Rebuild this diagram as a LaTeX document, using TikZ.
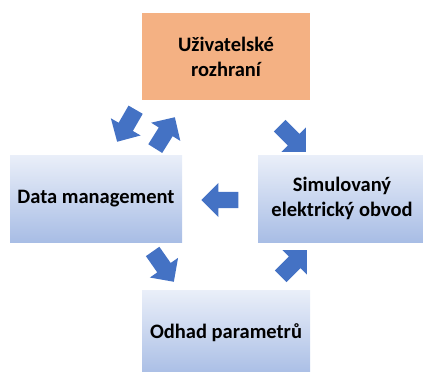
\documentclass[tikz,border=0pt]{standalone}
\usepackage{fontspec}
\setmainfont{Carlito}
\usetikzlibrary{shapes.arrows}

\definecolor{uiorange}{RGB}{244,177,131}
\definecolor{boxtop}{RGB}{234,239,249}
\definecolor{boxbot}{RGB}{168,189,229}
\definecolor{flowblue}{RGB}{68,114,196}

\tikzset{
  block/.style={minimum width=168pt, minimum height=87pt, inner sep=0pt,
    align=center, font=\bfseries\fontsize{20.5}{25}\selectfont},
  blueblock/.style={block, top color=boxtop, bottom color=boxbot},
  flow/.style={single arrow, fill=flowblue, inner xsep=0pt, inner ysep=8pt,
    anchor=tip, minimum height=37pt, single arrow head extend=9pt},
}

\begin{document}
\begin{tikzpicture}[x=1pt, y=-1pt]
  \clip (0,0) rectangle (423,372);

  %Define nodes
  \node[block, fill=uiorange]        (ui)  at (226,56.5) {Uživatelské\\rozhraní};
  \node[blueblock, minimum width=172pt] (dm)  at (96,198.5) {Data management};
  \node[blueblock]                   (sim) at (342,198.5) {Simulovaný\\elektrický obvod};
  \node[blueblock, minimum height=86pt] (odhad) at (226,333) {Odhad parametrů};

  % Block arrows
  \node[flow, rotate=240] (f1) at (117,142) {};
  \node[flow, rotate=58]  (f2) at (175,117) {};
  \node[flow, rotate=-45] (f3) at (306,152) {};
  \node[flow, rotate=180] (f4) at (201,200) {};
  \node[flow, rotate=-55] (f5) at (174,282) {};
  \node[flow, rotate=45]  (f6) at (307,250) {};

\end{tikzpicture}
\end{document}
